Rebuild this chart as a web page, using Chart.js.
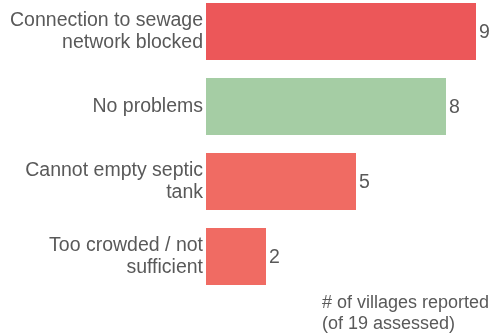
<!DOCTYPE html>
<html>
<head>
<meta charset="utf-8">
<script src="https://cdn.jsdelivr.net/npm/chart.js@4/dist/chart.umd.min.js"></script>
<style>
  html, body { margin: 0; padding: 0; background: #fff; }
  #wrap { position: relative; width: 489px; height: 333px; overflow: hidden; }
  #box { position: absolute; left: 0; top: -6px; width: 489px; height: 339px; }
  #note { position: absolute; left: 322px; top: 292px; font-family: "Liberation Sans", Arial, sans-serif;
          font-size: 18px; line-height: 21px; color: #595959; white-space: nowrap; }
</style>
</head>
<body>
<div id="wrap">
  <div id="box"><canvas id="c"></canvas></div>
  <div id="note"># of villages reported<br>(of 19 assessed)</div>
</div>
<script>
const categories = [
  ["Connection to sewage", "network blocked"],
  ["No problems"],
  ["Cannot empty septic", "tank"],
  ["Too crowded / not", "sufficient"]
];
const values = [9, 8, 5, 2];
const barColors = ["#EC5759", "#A5CDA4", "#F06B63", "#F06B63"];

const textColor = "#595959";
const fontFamily = "'Liberation Sans', Arial, sans-serif";

const valueLabels = {
  id: "valueLabels",
  afterDatasetsDraw(chart) {
    const ctx = chart.ctx;
    const meta = chart.getDatasetMeta(0);
    ctx.save();
    ctx.font = "19.5px " + fontFamily;
    ctx.fillStyle = textColor;
    ctx.textAlign = "left";
    ctx.textBaseline = "middle";
    meta.data.forEach((bar, i) => {
      ctx.fillText(String(values[i]), bar.x + 3, bar.y + 1);
    });
    ctx.restore();
  }
};

new Chart(document.getElementById("c"), {
  type: "bar",
  data: {
    labels: categories,
    datasets: [{
      data: values,
      backgroundColor: barColors,
      borderWidth: 0,
      categoryPercentage: 1,
      barPercentage: 0.76
    }]
  },
  options: {
    indexAxis: "y",
    responsive: true,
    maintainAspectRatio: false,
    animation: false,
    layout: { padding: { left: 0, right: 1, top: 0, bottom: 39 } },
    plugins: { legend: { display: false }, tooltip: { enabled: false } },
    scales: {
      x: { display: false, min: 0, max: 9.4 },
      y: {
        grid: { display: false, drawTicks: false },
        border: { display: false },
        ticks: {
          color: textColor,
          padding: 3,
          font: { family: fontFamily, size: 19.5, lineHeight: 1.13 }
        },
        afterFit(scale) {
          scale.width = 206;
          scale.paddingTop = 0;
          scale.paddingBottom = 0;
        }
      }
    }
  },
  plugins: [valueLabels]
});
</script>
</body>
</html>
